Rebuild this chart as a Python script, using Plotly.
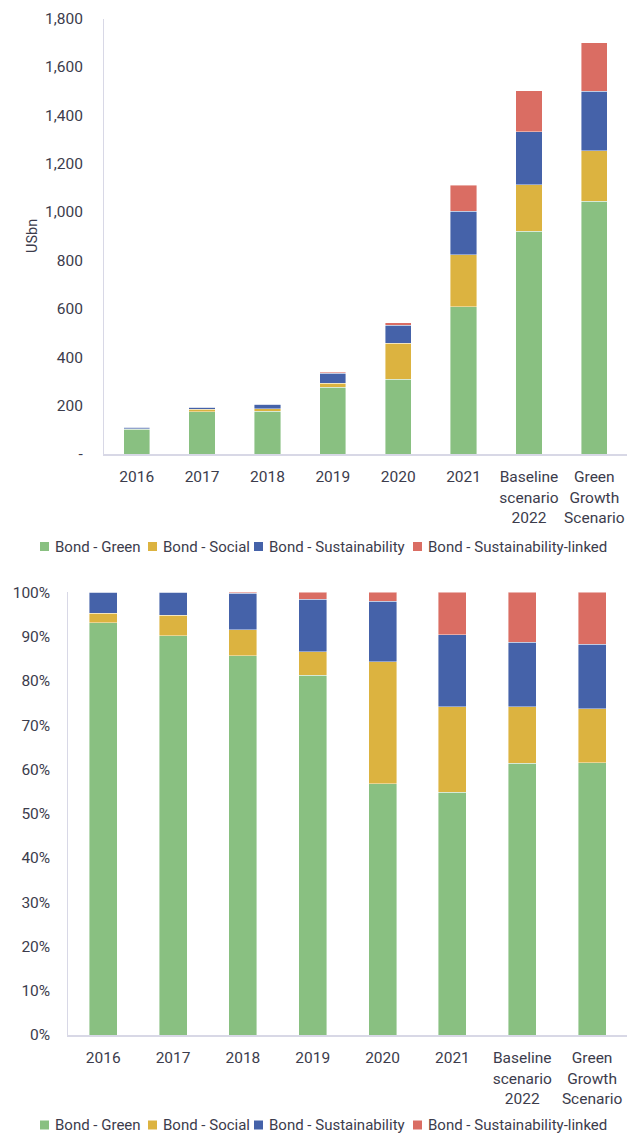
import plotly.graph_objects as go

categories = ["2016", "2017", "2018", "2019", "2020", "2021",
              "Baseline<br>scenario<br>2022", "Green<br>Growth<br>Scenario"]

series_names = ["Bond - Green", "Bond - Social", "Bond - Sustainability", "Bond - Sustainability-linked"]

bond_green = [102, 175, 176, 275, 308, 609, 921, 1045]
bond_social = [2.4, 9, 12, 18, 150, 215, 192, 208]
bond_sustainability = [5.2, 10, 17, 40, 74, 180, 218, 247]
bond_sustainability_linked = [0, 0, 0.4, 5.5, 11, 107, 170, 200]

y_ticks_top = [0, 200, 400, 600, 800, 1000, 1200, 1400, 1600, 1800]
y_ticktext_top = ["-", "200", "400", "600", "800", "1,000", "1,200", "1,400", "1,600", "1,800"]

colors = ["#89C081", "#DCB340", "#4562A9", "#DA6D63"]

series = [bond_green, bond_social, bond_sustainability, bond_sustainability_linked]
totals = [sum(v) for v in zip(*series)]
shares = [[v / t for v, t in zip(s, totals)] for s in series]

FONT = "Roboto"
TXT = "#3c3c4c"
AXC = "#d8d8e6"
W, H = 627, 1135


def px(xp):
    return xp / W


def py(yp):
    return 1 - yp / H


fig = go.Figure()
for name, vals, col in zip(series_names, series, colors):
    fig.add_trace(go.Bar(
        x=categories, y=vals, name=name, marker_color=col,
        marker_line_color="rgba(255,255,255,0.7)", marker_line_width=0.6,
        xaxis="x", yaxis="y", width=0.4, showlegend=False,
    ))
for name, vals, col in zip(series_names, shares, colors):
    fig.add_trace(go.Bar(
        x=categories, y=vals, name=name, marker_color=col,
        marker_line_color="rgba(255,255,255,0.7)", marker_line_width=0.6,
        xaxis="x2", yaxis="y2", width=0.4, showlegend=False,
    ))

tickfont = dict(family=FONT, size=15.5, color=TXT)

# legend rows (drawn as squares + text, one row under each chart)
legend_square_x = [40, 148, 254, 413]
legend_rows_y = [546.5, 1125]
shapes = []
annotations = []
for ly in legend_rows_y:
    for sx, name, col in zip(legend_square_x, series_names, colors):
        shapes.append(dict(type="rect", xref="paper", yref="paper",
                           x0=px(sx), x1=px(sx + 9), y0=py(ly + 4.5), y1=py(ly - 4.5),
                           fillcolor=col, line=dict(width=0)))
        annotations.append(dict(text=name, x=px(sx + 13), y=py(ly), xref="paper", yref="paper",
                                xanchor="left", yanchor="middle", showarrow=False,
                                font=dict(family=FONT, size=15, color=TXT)))

annotations.append(dict(text="USbn", x=px(32), y=py(236), xref="paper", yref="paper",
                        textangle=-90, showarrow=False, xanchor="center", yanchor="middle",
                        font=dict(family=FONT, size=14.5, color=TXT)))

fig.update_layout(
    width=W, height=H,
    barmode="stack",
    paper_bgcolor="white", plot_bgcolor="white",
    margin=dict(l=0, r=0, t=0, b=0, autoexpand=False),
    font=dict(family=FONT, size=15, color=TXT),
    showlegend=False,
    xaxis=dict(domain=[px(104), 1], anchor="y", showgrid=False, showline=True,
               linecolor=AXC, linewidth=1.5, tickfont=tickfont, ticks="",
               ticklabelstandoff=8, automargin=False),
    yaxis=dict(domain=[py(454), py(18.5)], anchor="x", range=[0, 1800],
               tickvals=y_ticks_top, ticktext=y_ticktext_top, showgrid=False,
               showline=True, linecolor=AXC, linewidth=1, tickfont=tickfont,
               ticks="", ticklabelstandoff=17, zeroline=False, automargin=False),
    xaxis2=dict(domain=[px(68.3), 1], anchor="y2", showgrid=False, showline=True,
                linecolor=AXC, linewidth=1.5, tickfont=tickfont, ticks="",
                ticklabelstandoff=8, automargin=False),
    yaxis2=dict(domain=[py(1035), py(592.3)], anchor="x2", range=[0, 1],
                tickformat=".0%", dtick=0.1, showgrid=False, showline=True,
                linecolor=AXC, linewidth=1, tickfont=tickfont, ticks="",
                ticklabelstandoff=14, zeroline=False, automargin=False),
    shapes=shapes,
    annotations=annotations,
)

fig.write_html("out.html", config={"displayModeBar": False},
               post_script="document.body.style.margin='0';document.body.style.overflow='hidden';")
